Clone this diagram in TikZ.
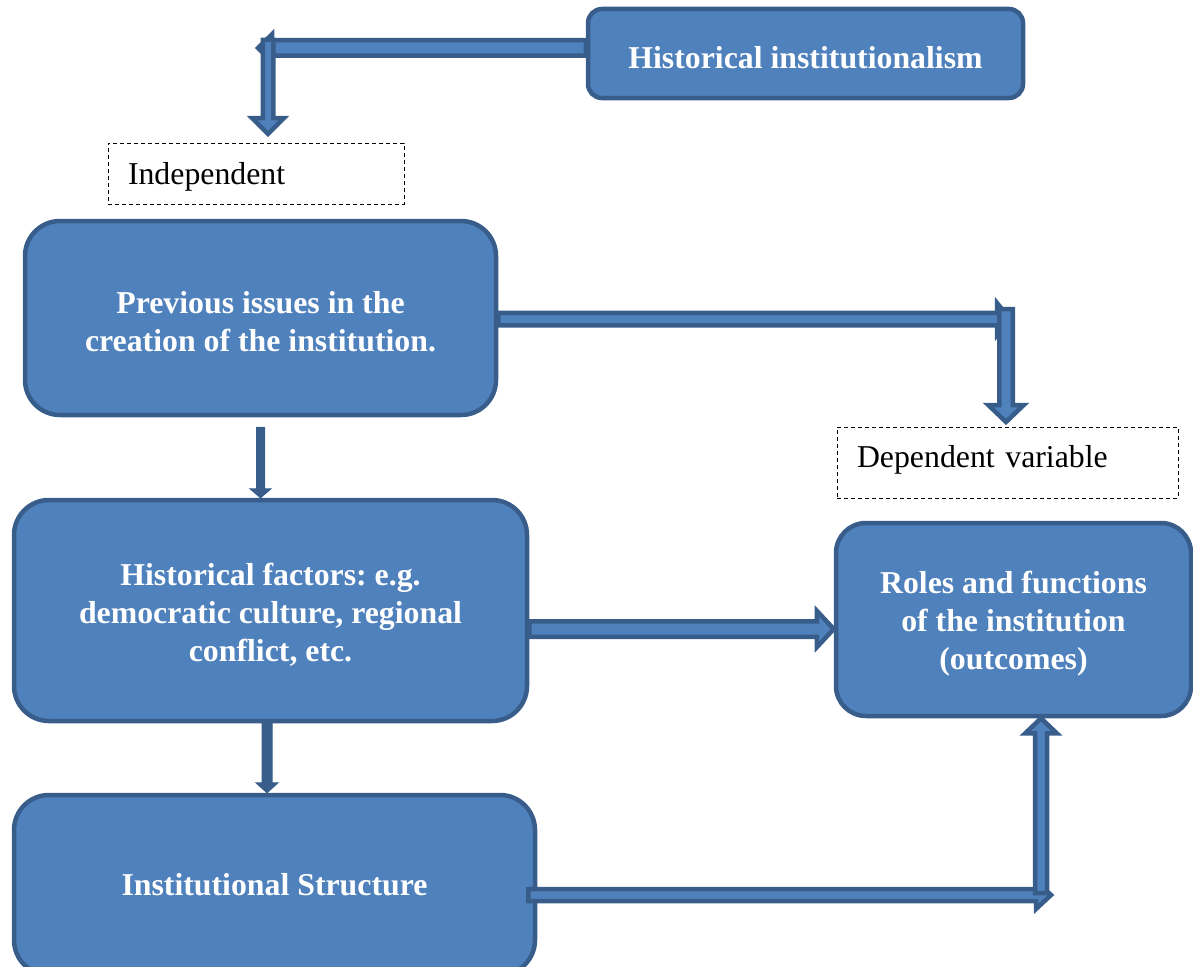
\documentclass[tikz,border=0pt]{standalone}
\usepackage{fontspec}
\setmainfont{Liberation Serif}
\usetikzlibrary{calc}
\frenchspacing
\definecolor{boxfill}{HTML}{4F81BD}
\definecolor{boxline}{HTML}{385D8A}
% #1 style, #2 start, #3 tip, #4 shaft half width, #5 head half width, #6 head length
\newcommand\blockarrow[6][]{%
  \draw[#1] let \p1=(#2), \p2=(#3),
    \n1={atan2(\y2-\y1,\x2-\x1)}, \n2={veclen(\x2-\x1,\y2-\y1)} in
    [shift={(\p1)}, rotate=\n1]
    (0pt,-#4pt) -- ({(\n2-#6)*1pt},-#4pt) -- ({(\n2-#6)*1pt},-#5pt)
    -- ({\n2*1pt},0pt) -- ({(\n2-#6)*1pt},#5pt) -- ({(\n2-#6)*1pt},#4pt)
    -- (0pt,#4pt) -- cycle;}
\newcommand\upstrut{\rule{0pt}{30pt}}
\begin{document}
\begin{tikzpicture}[x=1pt,y=-1pt,
  box/.style={draw=boxline, fill=boxfill, line width=4.5pt, rounded corners=#1,
    text=white, font=\bfseries\fontsize{31.8}{38}\selectfont, align=center, inner sep=0pt},
  dbox/.style={draw=black, line width=0.9pt, dash pattern=on 4pt off 3pt,
    font=\fontsize{31.8}{38}\selectfont, align=left, inner xsep=20pt, inner ysep=0pt},
  hollow/.style={draw=boxline, fill=boxfill, line width=4.5pt, line join=miter},
  solidarr/.style={draw=boxline, fill=boxline, line width=1pt, line join=miter}]
\useasboundingbox (0,0) rectangle (1193,966);
\clip (0,0) rectangle (1193,966);

% boxes
\node[box=14pt, minimum width=435pt, minimum height=89pt] (hi) at (805.5,53.5) {\upstrut Historical institutionalism};
\node[box=35pt, minimum width=471pt, minimum height=194pt] (prev) at (260.5,318) {\upstrut Previous issues in the\\creation of the institution.};
\node[box=35pt, minimum width=513pt, minimum height=221pt] (hf) at (270.5,610.5) {\upstrut Historical factors: e.g.\\democratic culture, regional\\conflict, etc.};
\node[box=30pt, minimum width=355pt, minimum height=193pt] (roles) at (1013.5,619.5) {\upstrut Roles and functions\\of the institution\\(outcomes)};
\node[box=35pt, minimum width=521pt, minimum height=180pt] (is) at (274.5,885) {Institutional Structure};

\node[dbox, minimum width=296pt, minimum height=61pt, text width=256pt] (ind) at (256,173.5) {\rule{0pt}{28pt}Independent};
\node[dbox, minimum width=341pt, minimum height=71pt, text width=301pt] (dep) at (1007.5,462.5) {Dependent variable\rule[-12pt]{0pt}{0pt}};

% named bends and tips
\coordinate (a1) at (258,48);
\coordinate (a2) at (268,40);
\coordinate (a3) at (268,134);
\coordinate (b1) at (1010,319);
\coordinate (b2) at (1006,309);
\coordinate (b3) at (1006,422);
\coordinate (f1) at (1051,895);
\coordinate (f2) at (1041,893);

% connectors
\blockarrow[hollow]{hi.west |- a1}{a1}{7.75}{13.75}{14}
\blockarrow[hollow]{a2}{a3}{5.25}{16}{16}
\blockarrow[hollow]{prev.east |- b1}{b1}{6.25}{16}{13}
\blockarrow[hollow]{b2}{b3}{6.75}{17.75}{17}
\blockarrow[solidarr]{$(prev.south)+(0,10)$}{hf.north -| prev.south}{4}{10.5}{9}
\blockarrow[solidarr]{$(hf.south)+(-3.5,0)$}{$(is.north)+(-7.5,0)$}{5}{11}{10}
\blockarrow[hollow]{$(hf.east)+(0,18.5)$}{roles.west |- {$(hf.east)+(0,18.5)$}}{7.75}{18.25}{17}
\blockarrow[hollow]{$(is.east)+(-9,10)$}{f1}{6}{14}{15}
\blockarrow[hollow]{f2}{roles.south -| f2}{6}{15.75}{15}
\end{tikzpicture}
\end{document}
